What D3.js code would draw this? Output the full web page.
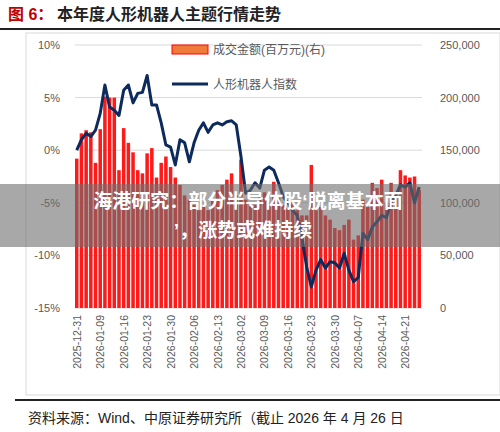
<!DOCTYPE html><html><head><meta charset="utf-8"><script src="https://cdn.jsdelivr.net/npm/d3@7"></script>
<style>body{margin:0;background:#fff}svg{font-family:"Liberation Sans","Noto Sans CJK SC",sans-serif}</style></head><body><svg id="c" width="500" height="432"></svg>
<script>
const tickLabels=["2025-12-31","2026-01-09","2026-01-16","2026-01-23","2026-01-30","2026-02-06","2026-02-13","2026-03-02","2026-03-09","2026-03-16","2026-03-23","2026-03-30","2026-04-07","2026-04-14","2026-04-21"];
const volume=[142,166,169,167,138,170,201,200,200,131,171,157,148,131,128,147,152,124,138,144,134,124,117,107,103,98,93,98,93,103,112,117,122,128,107,141,103,100,98,105,110,100,120,105,98,95,100,93,88,88,136,93,96,88,84,76,74,79,84,65,69,103,96,119,114,122,100,119,105,131,126,124,125,112];
const index=[0.0,1.0,1.6,1.3,1.9,3.5,6.2,4.1,3.8,3.3,5.7,6.2,4.5,5.4,5.5,7.1,4.3,4.3,2.6,0.5,0.3,-1.4,1.0,0.7,-1.1,0.7,1.9,2.6,1.7,2.4,2.6,2.4,2.7,2.8,2.4,-0.6,-4.1,-3.8,-3.1,-3.6,-1.9,-1.6,-1.9,-3.1,-4.4,-5.0,-5.7,-6.2,-8.3,-11.1,-13.0,-11.4,-10.4,-11.2,-10.6,-10.7,-11.2,-9.8,-11.4,-12.5,-12.1,-7.9,-8.5,-7.3,-6.8,-6.2,-6.4,-5.0,-4.3,-3.3,-3.5,-3.1,-5.0,-3.5];
const leftTicks=[10,5,0,-5,-10,-15], rightTicks=[0,50000,100000,150000,200000,250000];
const svg=d3.select("#c");
const n=volume.length;
const x=d3.scaleBand().domain(d3.range(n)).range([75,421]).paddingInner(0.25);
const yL=d3.scaleLinear().domain([-15,10]).range([308,45]);
const yR=d3.scaleLinear().domain([0,250000]).range([308,45]);
svg.append("text").attr("x",8).attr("y",20).attr("font-size",16).attr("font-weight","bold").attr("fill","#c00000").text("图 6：");
svg.append("text").attr("x",57).attr("y",20).attr("font-size",16).attr("font-weight","bold").attr("fill","#222").text("本年度人形机器人主题行情走势");
svg.append("rect").attr("x",0).attr("y",28).attr("width",500).attr("height",2).attr("fill","#222");
svg.append("rect").attr("x",26).attr("y",33).attr("width",474).attr("height",362).attr("fill","none").attr("stroke","#d9d9d9");
svg.append("g").selectAll("line").data(leftTicks).join("line").attr("x1",75).attr("x2",422).attr("y1",d=>yL(d)).attr("y2",d=>yL(d)).attr("stroke","#d9d9d9");
svg.append("g").selectAll("text").data(leftTicks).join("text").attr("x",60).attr("y",d=>yL(d)+4).attr("text-anchor","end").attr("font-size",11).attr("fill","#595959").text(d=>d+"%");
svg.append("g").selectAll("text").data(rightTicks).join("text").attr("x",440).attr("y",d=>yR(d)+4).attr("font-size",11).attr("fill","#595959").text(d=>d3.format(",")(d));
svg.append("g").selectAll("rect").data(volume).join("rect").attr("x",(d,i)=>x(i)).attr("width",x.bandwidth()).attr("y",d=>yR(d*1000)).attr("height",d=>308-yR(d*1000)).attr("fill","#ff1a1a");
svg.append("path").datum(index).attr("fill","none").attr("stroke","#0d2a5c").attr("stroke-width",3).attr("stroke-linejoin","round")
 .attr("d",d3.line().x((d,i)=>x(i)+x.bandwidth()/2).y(d=>yL(d)));
svg.append("g").selectAll("text").data(tickLabels).join("text").attr("transform",(d,i)=>`translate(${x(i*5)+x.bandwidth()/2+4},315) rotate(-90)`).attr("text-anchor","end").attr("font-size",10.5).attr("fill","#595959").text(d=>d);
svg.append("rect").attr("x",172).attr("y",45).attr("width",36).attr("height",9).attr("fill","#f07a3a").attr("stroke","#ff0000");
svg.append("text").attr("x",213).attr("y",54).attr("font-size",12).attr("fill","#595959").text("成交金额(百万元)(右)");
svg.append("line").attr("x1",172).attr("x2",208).attr("y1",84).attr("y2",84).attr("stroke","#0d2a5c").attr("stroke-width",3);
svg.append("text").attr("x",213).attr("y",89).attr("font-size",12).attr("fill","#595959").text("人形机器人指数");
svg.append("rect").attr("x",15).attr("y",399).attr("width",485).attr("height",2).attr("fill","#222");
svg.append("text").attr("x",28).attr("y",423).attr("font-size",14).attr("fill","#222").text("资料来源：Wind、中原证券研究所（截止 2026 年 4 月 26 日");
svg.append("rect").attr("x",0).attr("y",184).attr("width",500).attr("height",63).attr("fill","rgba(110,110,110,0.6)");
svg.append("text").attr("x",248).attr("y",208).attr("text-anchor","middle").attr("font-size",19).attr("font-weight","bold").attr("fill","#fff").text("海港研究：部分半导体股‘脱离基本面");
svg.append("text").attr("x",243).attr("y",237).attr("text-anchor","middle").attr("font-size",19).attr("font-weight","bold").attr("fill","#fff").text("’，涨势或难持续");
</script></body></html>
